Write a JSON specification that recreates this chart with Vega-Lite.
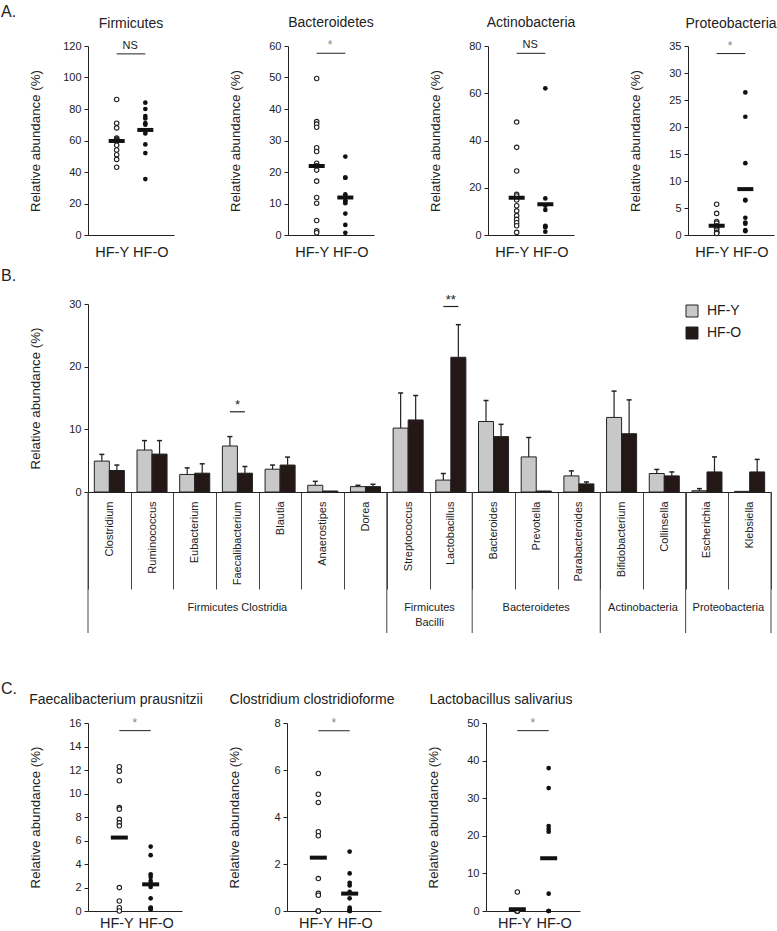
{
"$schema": "https://vega.github.io/schema/vega-lite/v6.json",
"padding": {"left": 0, "top": 4, "right": 5, "bottom": 5},
"datasets": {
"pts": [
{"p":"Firmicutes","g":"HF-Y","v":86},{"p":"Firmicutes","g":"HF-Y","v":71},{"p":"Firmicutes","g":"HF-Y","v":68},{"p":"Firmicutes","g":"HF-Y","v":61.5},{"p":"Firmicutes","g":"HF-Y","v":61},{"p":"Firmicutes","g":"HF-Y","v":60.5},{"p":"Firmicutes","g":"HF-Y","v":60},{"p":"Firmicutes","g":"HF-Y","v":59.5},{"p":"Firmicutes","g":"HF-Y","v":57},{"p":"Firmicutes","g":"HF-Y","v":54},{"p":"Firmicutes","g":"HF-Y","v":51},{"p":"Firmicutes","g":"HF-Y","v":48},{"p":"Firmicutes","g":"HF-Y","v":43},
{"p":"Firmicutes","g":"HF-O","v":84},{"p":"Firmicutes","g":"HF-O","v":80},{"p":"Firmicutes","g":"HF-O","v":75.5},{"p":"Firmicutes","g":"HF-O","v":74},{"p":"Firmicutes","g":"HF-O","v":71},{"p":"Firmicutes","g":"HF-O","v":70},{"p":"Firmicutes","g":"HF-O","v":66.5},{"p":"Firmicutes","g":"HF-O","v":66},{"p":"Firmicutes","g":"HF-O","v":64.5},{"p":"Firmicutes","g":"HF-O","v":57.5},{"p":"Firmicutes","g":"HF-O","v":52},{"p":"Firmicutes","g":"HF-O","v":35.5},
{"p":"Bacteroidetes","g":"HF-Y","v":49.7},{"p":"Bacteroidetes","g":"HF-Y","v":36},{"p":"Bacteroidetes","g":"HF-Y","v":35.2},{"p":"Bacteroidetes","g":"HF-Y","v":34.2},{"p":"Bacteroidetes","g":"HF-Y","v":27.7},{"p":"Bacteroidetes","g":"HF-Y","v":26.5},{"p":"Bacteroidetes","g":"HF-Y","v":22.8},{"p":"Bacteroidetes","g":"HF-Y","v":22},{"p":"Bacteroidetes","g":"HF-Y","v":20.6},{"p":"Bacteroidetes","g":"HF-Y","v":17.1},{"p":"Bacteroidetes","g":"HF-Y","v":11.9},{"p":"Bacteroidetes","g":"HF-Y","v":10.1},{"p":"Bacteroidetes","g":"HF-Y","v":4.6},{"p":"Bacteroidetes","g":"HF-Y","v":1.3},{"p":"Bacteroidetes","g":"HF-Y","v":0.7},
{"p":"Bacteroidetes","g":"HF-O","v":24.9},{"p":"Bacteroidetes","g":"HF-O","v":18.2},{"p":"Bacteroidetes","g":"HF-O","v":18.2},{"p":"Bacteroidetes","g":"HF-O","v":12.9},{"p":"Bacteroidetes","g":"HF-O","v":12.2},{"p":"Bacteroidetes","g":"HF-O","v":10.8},{"p":"Bacteroidetes","g":"HF-O","v":10.8},{"p":"Bacteroidetes","g":"HF-O","v":10.1},{"p":"Bacteroidetes","g":"HF-O","v":6.8},{"p":"Bacteroidetes","g":"HF-O","v":3.2},{"p":"Bacteroidetes","g":"HF-O","v":0.7},
{"p":"Actinobacteria","g":"HF-Y","v":47.8},{"p":"Actinobacteria","g":"HF-Y","v":37.1},{"p":"Actinobacteria","g":"HF-Y","v":27.1},{"p":"Actinobacteria","g":"HF-Y","v":17.2},{"p":"Actinobacteria","g":"HF-Y","v":16.5},{"p":"Actinobacteria","g":"HF-Y","v":14.8},{"p":"Actinobacteria","g":"HF-Y","v":12.4},{"p":"Actinobacteria","g":"HF-Y","v":10.2},{"p":"Actinobacteria","g":"HF-Y","v":8.2},{"p":"Actinobacteria","g":"HF-Y","v":6.6},{"p":"Actinobacteria","g":"HF-Y","v":5.2},{"p":"Actinobacteria","g":"HF-Y","v":3.9},{"p":"Actinobacteria","g":"HF-Y","v":1.1},
{"p":"Actinobacteria","g":"HF-O","v":62.1},{"p":"Actinobacteria","g":"HF-O","v":15.5},{"p":"Actinobacteria","g":"HF-O","v":12.4},{"p":"Actinobacteria","g":"HF-O","v":10.6},{"p":"Actinobacteria","g":"HF-O","v":3.9},{"p":"Actinobacteria","g":"HF-O","v":3.6},{"p":"Actinobacteria","g":"HF-O","v":3.3},{"p":"Actinobacteria","g":"HF-O","v":1.4},
{"p":"Proteobacteria","g":"HF-Y","v":5.7},{"p":"Proteobacteria","g":"HF-Y","v":4.0},{"p":"Proteobacteria","g":"HF-Y","v":2.5},{"p":"Proteobacteria","g":"HF-Y","v":2.2},{"p":"Proteobacteria","g":"HF-Y","v":1.7},{"p":"Proteobacteria","g":"HF-Y","v":1.5},{"p":"Proteobacteria","g":"HF-Y","v":1.2},{"p":"Proteobacteria","g":"HF-Y","v":0.9},{"p":"Proteobacteria","g":"HF-Y","v":0.5},{"p":"Proteobacteria","g":"HF-Y","v":0.4},{"p":"Proteobacteria","g":"HF-Y","v":0.3},
{"p":"Proteobacteria","g":"HF-O","v":26.4},{"p":"Proteobacteria","g":"HF-O","v":21.9},{"p":"Proteobacteria","g":"HF-O","v":13.3},{"p":"Proteobacteria","g":"HF-O","v":6.5},{"p":"Proteobacteria","g":"HF-O","v":6.4},{"p":"Proteobacteria","g":"HF-O","v":3.2},{"p":"Proteobacteria","g":"HF-O","v":2.3},{"p":"Proteobacteria","g":"HF-O","v":2.1},{"p":"Proteobacteria","g":"HF-O","v":0.9},{"p":"Proteobacteria","g":"HF-O","v":0.7},
{"p":"Faecalibacterium prausnitzii","g":"HF-Y","v":12.28},{"p":"Faecalibacterium prausnitzii","g":"HF-Y","v":11.9},{"p":"Faecalibacterium prausnitzii","g":"HF-Y","v":11.08},{"p":"Faecalibacterium prausnitzii","g":"HF-Y","v":8.8},{"p":"Faecalibacterium prausnitzii","g":"HF-Y","v":8.67},{"p":"Faecalibacterium prausnitzii","g":"HF-Y","v":7.8},{"p":"Faecalibacterium prausnitzii","g":"HF-Y","v":7.5},{"p":"Faecalibacterium prausnitzii","g":"HF-Y","v":7.25},{"p":"Faecalibacterium prausnitzii","g":"HF-Y","v":1.99},{"p":"Faecalibacterium prausnitzii","g":"HF-Y","v":0.85},{"p":"Faecalibacterium prausnitzii","g":"HF-Y","v":0.28},{"p":"Faecalibacterium prausnitzii","g":"HF-Y","v":0},
{"p":"Faecalibacterium prausnitzii","g":"HF-O","v":5.48},{"p":"Faecalibacterium prausnitzii","g":"HF-O","v":4.75},{"p":"Faecalibacterium prausnitzii","g":"HF-O","v":3.13},{"p":"Faecalibacterium prausnitzii","g":"HF-O","v":2.9},{"p":"Faecalibacterium prausnitzii","g":"HF-O","v":2.56},{"p":"Faecalibacterium prausnitzii","g":"HF-O","v":2.27},{"p":"Faecalibacterium prausnitzii","g":"HF-O","v":2.05},{"p":"Faecalibacterium prausnitzii","g":"HF-O","v":1.08},{"p":"Faecalibacterium prausnitzii","g":"HF-O","v":0.3},{"p":"Faecalibacterium prausnitzii","g":"HF-O","v":0.25},{"p":"Faecalibacterium prausnitzii","g":"HF-O","v":0.2},{"p":"Faecalibacterium prausnitzii","g":"HF-O","v":0.15},
{"p":"Clostridium clostridioforme","g":"HF-Y","v":5.85},{"p":"Clostridium clostridioforme","g":"HF-Y","v":4.97},{"p":"Clostridium clostridioforme","g":"HF-Y","v":4.62},{"p":"Clostridium clostridioforme","g":"HF-Y","v":3.37},{"p":"Clostridium clostridioforme","g":"HF-Y","v":3.2},{"p":"Clostridium clostridioforme","g":"HF-Y","v":1.38},{"p":"Clostridium clostridioforme","g":"HF-Y","v":0.75},{"p":"Clostridium clostridioforme","g":"HF-Y","v":0.67},{"p":"Clostridium clostridioforme","g":"HF-Y","v":0},{"p":"Clostridium clostridioforme","g":"HF-Y","v":0},{"p":"Clostridium clostridioforme","g":"HF-Y","v":0},
{"p":"Clostridium clostridioforme","g":"HF-O","v":2.53},{"p":"Clostridium clostridioforme","g":"HF-O","v":1.6},{"p":"Clostridium clostridioforme","g":"HF-O","v":1.2},{"p":"Clostridium clostridioforme","g":"HF-O","v":1.09},{"p":"Clostridium clostridioforme","g":"HF-O","v":0.81},{"p":"Clostridium clostridioforme","g":"HF-O","v":0.54},{"p":"Clostridium clostridioforme","g":"HF-O","v":0.14},{"p":"Clostridium clostridioforme","g":"HF-O","v":0.07},{"p":"Clostridium clostridioforme","g":"HF-O","v":0},{"p":"Clostridium clostridioforme","g":"HF-O","v":0},{"p":"Clostridium clostridioforme","g":"HF-O","v":0},
{"p":"Lactobacillus salivarius","g":"HF-Y","v":5.06},{"p":"Lactobacillus salivarius","g":"HF-Y","v":0},{"p":"Lactobacillus salivarius","g":"HF-Y","v":0},{"p":"Lactobacillus salivarius","g":"HF-Y","v":0},{"p":"Lactobacillus salivarius","g":"HF-Y","v":0},{"p":"Lactobacillus salivarius","g":"HF-Y","v":0},{"p":"Lactobacillus salivarius","g":"HF-Y","v":0},{"p":"Lactobacillus salivarius","g":"HF-Y","v":0},{"p":"Lactobacillus salivarius","g":"HF-Y","v":0},
{"p":"Lactobacillus salivarius","g":"HF-O","v":38},{"p":"Lactobacillus salivarius","g":"HF-O","v":32.7},{"p":"Lactobacillus salivarius","g":"HF-O","v":22.6},{"p":"Lactobacillus salivarius","g":"HF-O","v":21.8},{"p":"Lactobacillus salivarius","g":"HF-O","v":21.1},{"p":"Lactobacillus salivarius","g":"HF-O","v":4.6},{"p":"Lactobacillus salivarius","g":"HF-O","v":0},{"p":"Lactobacillus salivarius","g":"HF-O","v":0},{"p":"Lactobacillus salivarius","g":"HF-O","v":0}
],
"med": [
{"p":"Firmicutes","g":"HF-Y","v":59.7},{"p":"Firmicutes","g":"HF-O","v":66.7},
{"p":"Bacteroidetes","g":"HF-Y","v":21.9},{"p":"Bacteroidetes","g":"HF-O","v":11.9},
{"p":"Actinobacteria","g":"HF-Y","v":15.8},{"p":"Actinobacteria","g":"HF-O","v":13},
{"p":"Proteobacteria","g":"HF-Y","v":1.7},{"p":"Proteobacteria","g":"HF-O","v":8.5},
{"p":"Faecalibacterium prausnitzii","g":"HF-Y","v":6.25},{"p":"Faecalibacterium prausnitzii","g":"HF-O","v":2.27},
{"p":"Clostridium clostridioforme","g":"HF-Y","v":2.27},{"p":"Clostridium clostridioforme","g":"HF-O","v":0.74},
{"p":"Lactobacillus salivarius","g":"HF-Y","v":0.44},{"p":"Lactobacillus salivarius","g":"HF-O","v":14}
],
"sig": [
{"p":"Firmicutes","v":115,"t":"NS"},{"p":"Bacteroidetes","v":57.7,"t":"*"},{"p":"Actinobacteria","v":76.9,"t":"NS"},{"p":"Proteobacteria","v":33.6,"t":"*"},
{"p":"Faecalibacterium prausnitzii","v":15.35,"t":"*"},{"p":"Clostridium clostridioforme","v":7.67,"t":"*"},{"p":"Lactobacillus salivarius","v":47.96,"t":"*"}
],
"bars": [
{"genus":"Clostridium","g":"HF-Y","mean":4.93,"upper":6.0},{"genus":"Clostridium","g":"HF-O","mean":3.43,"upper":4.3},
{"genus":"Ruminococcus","g":"HF-Y","mean":6.7,"upper":8.2},{"genus":"Ruminococcus","g":"HF-O","mean":6.05,"upper":8.2},
{"genus":"Eubacterium","g":"HF-Y","mean":2.8,"upper":3.85},{"genus":"Eubacterium","g":"HF-O","mean":3.0,"upper":4.5},
{"genus":"Faecalibacterium","g":"HF-Y","mean":7.34,"upper":8.84},{"genus":"Faecalibacterium","g":"HF-O","mean":3.0,"upper":4.07},
{"genus":"Blautia","g":"HF-Y","mean":3.64,"upper":4.3},{"genus":"Blautia","g":"HF-O","mean":4.3,"upper":5.57},
{"genus":"Anaerostipes","g":"HF-Y","mean":1.07,"upper":1.7},{"genus":"Anaerostipes","g":"HF-O","mean":0.16,"upper":0.16},
{"genus":"Dorea","g":"HF-Y","mean":0.86,"upper":1.07},{"genus":"Dorea","g":"HF-O","mean":0.86,"upper":1.23},
{"genus":"Streptococcus","g":"HF-Y","mean":10.2,"upper":15.8},{"genus":"Streptococcus","g":"HF-O","mean":11.5,"upper":15.4},
{"genus":"Lactobacillus","g":"HF-Y","mean":1.9,"upper":2.95},{"genus":"Lactobacillus","g":"HF-O","mean":21.5,"upper":26.7},
{"genus":"Bacteroides","g":"HF-Y","mean":11.25,"upper":14.6},{"genus":"Bacteroides","g":"HF-O","mean":8.84,"upper":10.8},
{"genus":"Prevotella","g":"HF-Y","mean":5.6,"upper":8.7},{"genus":"Prevotella","g":"HF-O","mean":0.16,"upper":0.16},
{"genus":"Parabacteroides","g":"HF-Y","mean":2.57,"upper":3.37},{"genus":"Parabacteroides","g":"HF-O","mean":1.29,"upper":1.6},
{"genus":"Bifidobacterium","g":"HF-Y","mean":11.9,"upper":16.1},{"genus":"Bifidobacterium","g":"HF-O","mean":9.3,"upper":14.7},
{"genus":"Collinsella","g":"HF-Y","mean":2.95,"upper":3.6},{"genus":"Collinsella","g":"HF-O","mean":2.57,"upper":3.2},
{"genus":"Escherichia","g":"HF-Y","mean":0.2,"upper":0.54},{"genus":"Escherichia","g":"HF-O","mean":3.2,"upper":5.6},
{"genus":"Klebsiella","g":"HF-Y","mean":0.1,"upper":0.1},{"genus":"Klebsiella","g":"HF-O","mean":3.2,"upper":5.2}
],
"bsig": [{"genus":"Faecalibacterium","v":12.8,"t":"*"},{"genus":"Lactobacillus","v":29.6,"t":"**"}],
"gb": [{"genus":"Clostridium","edge":"start"},{"genus":"Streptococcus","edge":"start"},{"genus":"Bacteroides","edge":"start"},{"genus":"Bifidobacterium","edge":"start"},{"genus":"Escherichia","edge":"start"},{"genus":"Klebsiella","edge":"end"}],
"gl": [{"label":"Firmicutes Clostridia","genus":"Faecalibacterium","at":"center"},{"label":"Firmicutes\nBacilli","genus":"Lactobacillus","at":"start"},{"label":"Bacteroidetes","genus":"Prevotella","at":"center"},{"label":"Actinobacteria","genus":"Collinsella","at":"start"},{"label":"Proteobacteria","genus":"Klebsiella","at":"start"}]
},
"vconcat": [
{
"title": {"text": "A.", "anchor": "start", "fontSize": 16, "baseline": "alphabetic", "offset": -17, "dx": -27},
"bounds": "flush", "spacing": 114,
"hconcat": [
{"width": 86, "height": 189,
 "title": {"text": "Firmicutes", "frame": "group", "anchor": "middle", "baseline": "alphabetic", "offset": -2},
 "encoding": {"x": {"field": "g", "type": "nominal", "scale": {"type": "point", "domain": ["HF-Y","HF-O"], "padding": 1.1}, "axis": {"title": null, "labelFontSize": 14.5, "labelPadding": 10, "ticks": false, "labelAngle": 0, "labelOffset": {"condition": {"test": "datum.value === 'HF-Y'", "value": -5}, "value": 5}}},
  "y": {"field": "v", "type": "quantitative", "scale": {"domain": [0,120], "nice": false}, "axis": {"values": [0,20,40,60,80,100,120], "title": "Relative abundance (%)", "titleFontSize": 13.3, "titleX": -49, "titleBaseline": "alphabetic", "labelFontSize": 11, "tickSize": 4, "labelPadding": 3}}},
 "layer": [
  {"data": {"name": "pts"}, "transform": [{"filter": "datum.p === 'Firmicutes' && datum.g === 'HF-Y'"}], "mark": {"type": "circle", "size": 20, "fill": "white", "stroke": "#222", "strokeWidth": 1.1, "opacity": 1}},
  {"data": {"name": "pts"}, "transform": [{"filter": "datum.p === 'Firmicutes' && datum.g === 'HF-O'"}], "mark": {"type": "circle", "size": 22, "fill": "#111", "opacity": 1}},
  {"data": {"name": "med"}, "transform": [{"filter": "datum.p === 'Firmicutes'"}], "mark": {"type": "tick", "orient": "horizontal", "size": 16, "thickness": 4, "color": "#111", "opacity": 1}},
  {"data": {"name": "sig"}, "transform": [{"filter": "datum.p === 'Firmicutes'"}], "mark": {"type": "rule", "color": "#222", "strokeWidth": 1}, "encoding": {"x": {"datum": "HF-Y"}, "x2": {"datum": "HF-O"}}},
  {"data": {"name": "sig"}, "transform": [{"filter": "datum.p === 'Firmicutes'"}], "mark": {"type": "text", "dx": 13.5, "dy": -8, "fontSize": 11}, "encoding": {"x": {"datum": "HF-Y"}, "text": {"field": "t"}, "color": {"condition": {"test": "datum.t === 'NS'", "value": "#222"}, "value": "#888"}}}
 ]},
{"width": 86, "height": 189,
 "title": {"text": "Bacteroidetes", "frame": "group", "anchor": "middle", "baseline": "alphabetic", "offset": -2},
 "encoding": {"x": {"field": "g", "type": "nominal", "scale": {"type": "point", "domain": ["HF-Y","HF-O"], "padding": 1.1}, "axis": {"title": null, "labelFontSize": 14.5, "labelPadding": 10, "ticks": false, "labelAngle": 0, "labelOffset": {"condition": {"test": "datum.value === 'HF-Y'", "value": -5}, "value": 5}}},
  "y": {"field": "v", "type": "quantitative", "scale": {"domain": [0,60], "nice": false}, "axis": {"values": [0,10,20,30,40,50,60], "title": "Relative abundance (%)", "titleFontSize": 13.3, "titleX": -49, "titleBaseline": "alphabetic", "labelFontSize": 11, "tickSize": 4, "labelPadding": 3}}},
 "layer": [
  {"data": {"name": "pts"}, "transform": [{"filter": "datum.p === 'Bacteroidetes' && datum.g === 'HF-Y'"}], "mark": {"type": "circle", "size": 20, "fill": "white", "stroke": "#222", "strokeWidth": 1.1, "opacity": 1}},
  {"data": {"name": "pts"}, "transform": [{"filter": "datum.p === 'Bacteroidetes' && datum.g === 'HF-O'"}], "mark": {"type": "circle", "size": 22, "fill": "#111", "opacity": 1}},
  {"data": {"name": "med"}, "transform": [{"filter": "datum.p === 'Bacteroidetes'"}], "mark": {"type": "tick", "orient": "horizontal", "size": 16, "thickness": 4, "color": "#111", "opacity": 1}},
  {"data": {"name": "sig"}, "transform": [{"filter": "datum.p === 'Bacteroidetes'"}], "mark": {"type": "rule", "color": "#222", "strokeWidth": 1}, "encoding": {"x": {"datum": "HF-Y"}, "x2": {"datum": "HF-O"}}},
  {"data": {"name": "sig"}, "transform": [{"filter": "datum.p === 'Bacteroidetes'"}], "mark": {"type": "text", "dx": 13.5, "dy": -8, "fontSize": 12}, "encoding": {"x": {"datum": "HF-Y"}, "text": {"field": "t"}, "color": {"condition": {"test": "datum.t === 'NS'", "value": "#222"}, "value": "#888"}}}
 ]},
{"width": 86, "height": 189,
 "title": {"text": "Actinobacteria", "frame": "group", "anchor": "middle", "baseline": "alphabetic", "offset": -2},
 "encoding": {"x": {"field": "g", "type": "nominal", "scale": {"type": "point", "domain": ["HF-Y","HF-O"], "padding": 1.1}, "axis": {"title": null, "labelFontSize": 14.5, "labelPadding": 10, "ticks": false, "labelAngle": 0, "labelOffset": {"condition": {"test": "datum.value === 'HF-Y'", "value": -5}, "value": 5}}},
  "y": {"field": "v", "type": "quantitative", "scale": {"domain": [0,80], "nice": false}, "axis": {"values": [0,20,40,60,80], "title": "Relative abundance (%)", "titleFontSize": 13.3, "titleX": -49, "titleBaseline": "alphabetic", "labelFontSize": 11, "tickSize": 4, "labelPadding": 3}}},
 "layer": [
  {"data": {"name": "pts"}, "transform": [{"filter": "datum.p === 'Actinobacteria' && datum.g === 'HF-Y'"}], "mark": {"type": "circle", "size": 20, "fill": "white", "stroke": "#222", "strokeWidth": 1.1, "opacity": 1}},
  {"data": {"name": "pts"}, "transform": [{"filter": "datum.p === 'Actinobacteria' && datum.g === 'HF-O'"}], "mark": {"type": "circle", "size": 22, "fill": "#111", "opacity": 1}},
  {"data": {"name": "med"}, "transform": [{"filter": "datum.p === 'Actinobacteria'"}], "mark": {"type": "tick", "orient": "horizontal", "size": 16, "thickness": 4, "color": "#111", "opacity": 1}},
  {"data": {"name": "sig"}, "transform": [{"filter": "datum.p === 'Actinobacteria'"}], "mark": {"type": "rule", "color": "#222", "strokeWidth": 1}, "encoding": {"x": {"datum": "HF-Y"}, "x2": {"datum": "HF-O"}}},
  {"data": {"name": "sig"}, "transform": [{"filter": "datum.p === 'Actinobacteria'"}], "mark": {"type": "text", "dx": 13.5, "dy": -8, "fontSize": 11}, "encoding": {"x": {"datum": "HF-Y"}, "text": {"field": "t"}, "color": {"condition": {"test": "datum.t === 'NS'", "value": "#222"}, "value": "#888"}}}
 ]},
{"width": 86, "height": 189,
 "title": {"text": "Proteobacteria", "frame": "group", "anchor": "middle", "baseline": "alphabetic", "offset": -2},
 "encoding": {"x": {"field": "g", "type": "nominal", "scale": {"type": "point", "domain": ["HF-Y","HF-O"], "padding": 1.1}, "axis": {"title": null, "labelFontSize": 14.5, "labelPadding": 10, "ticks": false, "labelAngle": 0, "labelOffset": {"condition": {"test": "datum.value === 'HF-Y'", "value": -5}, "value": 5}}},
  "y": {"field": "v", "type": "quantitative", "scale": {"domain": [0,35], "nice": false}, "axis": {"values": [0,5,10,15,20,25,30,35], "title": "Relative abundance (%)", "titleFontSize": 13.3, "titleX": -49, "titleBaseline": "alphabetic", "labelFontSize": 11, "tickSize": 4, "labelPadding": 3}}},
 "layer": [
  {"data": {"name": "pts"}, "transform": [{"filter": "datum.p === 'Proteobacteria' && datum.g === 'HF-Y'"}], "mark": {"type": "circle", "size": 20, "fill": "white", "stroke": "#222", "strokeWidth": 1.1, "opacity": 1}},
  {"data": {"name": "pts"}, "transform": [{"filter": "datum.p === 'Proteobacteria' && datum.g === 'HF-O'"}], "mark": {"type": "circle", "size": 22, "fill": "#111", "opacity": 1}},
  {"data": {"name": "med"}, "transform": [{"filter": "datum.p === 'Proteobacteria'"}], "mark": {"type": "tick", "orient": "horizontal", "size": 16, "thickness": 4, "color": "#111", "opacity": 1}},
  {"data": {"name": "sig"}, "transform": [{"filter": "datum.p === 'Proteobacteria'"}], "mark": {"type": "rule", "color": "#222", "strokeWidth": 1}, "encoding": {"x": {"datum": "HF-Y"}, "x2": {"datum": "HF-O"}}},
  {"data": {"name": "sig"}, "transform": [{"filter": "datum.p === 'Proteobacteria'"}], "mark": {"type": "text", "dx": 13.5, "dy": -8, "fontSize": 12}, "encoding": {"x": {"datum": "HF-Y"}, "text": {"field": "t"}, "color": {"condition": {"test": "datum.t === 'NS'", "value": "#222"}, "value": "#888"}}}
 ]}
]
},
{
"spacing": 46,
"resolve": {"scale": {"color": "independent"}, "legend": {"color": "independent"}},
"vconcat": [
{"width": 683, "height": 188,
 "title": {"text": "B.", "anchor": "start", "frame": "bounds", "fontSize": 16, "baseline": "alphabetic", "offset": -3, "dx": -27},
 "layer": [
  {"data": {"name": "bars"}, "mark": {"type": "bar", "stroke": "#222", "strokeWidth": 1},
   "encoding": {
    "x": {"field": "genus", "type": "nominal", "scale": {"domain": ["Clostridium","Ruminococcus","Eubacterium","Faecalibacterium","Blautia","Anaerostipes","Dorea","Streptococcus","Lactobacillus","Bacteroides","Prevotella","Parabacteroides","Bifidobacterium","Collinsella","Escherichia","Klebsiella"], "paddingInner": 0, "paddingOuter": 0},
     "axis": {"title": null, "labelAngle": 270, "labelAlign": "right", "labelBaseline": "middle", "labelFontSize": 11, "tickBand": "extent", "tickSize": 97, "tickColor": "#444", "labelPadding": -88}},
    "xOffset": {"field": "g", "type": "nominal", "scale": {"domain": ["HF-Y","HF-O"], "paddingInner": 0, "paddingOuter": 0.42}},
    "y": {"field": "mean", "type": "quantitative", "scale": {"domain": [0,30], "nice": false}, "axis": {"values": [0,5,10,15,20,25,30], "title": "Relative abundance (%)", "titleFontSize": 13.3, "titleX": -49, "titleBaseline": "alphabetic", "labelFontSize": 11, "tickSize": 4, "labelPadding": 3}},
    "color": {"field": "g", "type": "nominal", "scale": {"domain": ["HF-Y","HF-O"], "range": ["#c8c8c8","#231815"]},
     "legend": {"title": null, "orient": "none", "legendX": 597, "legendY": 0, "symbolType": "square", "symbolSize": 144, "symbolStrokeColor": "#222", "symbolStrokeWidth": 1, "symbolOpacity": 1, "labelFontSize": 14, "labelOffset": 8, "rowPadding": 6, "padding": 0}}
   }},
  {"data": {"name": "bars"}, "transform": [{"filter": "datum.upper > datum.mean"}], "mark": {"type": "rule", "color": "#222", "strokeWidth": 1.2},
   "encoding": {"x": {"field": "genus", "type": "nominal"}, "xOffset": {"field": "g", "type": "nominal"}, "y": {"field": "mean", "type": "quantitative"}, "y2": {"field": "upper"}}},
  {"data": {"name": "bars"}, "transform": [{"filter": "datum.upper > datum.mean"}], "mark": {"type": "tick", "orient": "horizontal", "size": 5, "thickness": 1.5, "color": "#222", "opacity": 1},
   "encoding": {"x": {"field": "genus", "type": "nominal"}, "xOffset": {"field": "g", "type": "nominal"}, "y": {"field": "upper", "type": "quantitative"}}},
  {"data": {"name": "bsig"}, "mark": {"type": "tick", "orient": "horizontal", "size": 15, "thickness": 1.2, "color": "#222", "opacity": 1},
   "encoding": {"x": {"field": "genus", "type": "nominal"}, "y": {"field": "v", "type": "quantitative"}}},
  {"data": {"name": "bsig"}, "mark": {"type": "text", "dy": -7, "fontSize": 13, "color": "#222"},
   "encoding": {"x": {"field": "genus", "type": "nominal"}, "y": {"field": "v", "type": "quantitative"}, "text": {"field": "t"}}},
  {"data": {"name": "gb"}, "transform": [{"filter": "datum.edge === 'start'"}], "mark": {"type": "rule", "color": "#444", "strokeWidth": 1},
   "encoding": {"x": {"field": "genus", "type": "nominal", "bandPosition": 0}, "y": {"datum": 0}, "y2": {"datum": -22.5}}},
  {"data": {"name": "gb"}, "transform": [{"filter": "datum.edge === 'end'"}], "mark": {"type": "rule", "color": "#444", "strokeWidth": 1},
   "encoding": {"x": {"field": "genus", "type": "nominal", "bandPosition": 1}, "y": {"datum": 0}, "y2": {"datum": -22.5}}},
  {"data": {"name": "gl"}, "transform": [{"filter": "datum.at === 'center'"}], "mark": {"type": "text", "baseline": "top", "fontSize": 11, "lineBreak": "\n", "lineHeight": 15, "color": "#222"},
   "encoding": {"x": {"field": "genus", "type": "nominal", "bandPosition": 0.5}, "y": {"datum": -17.5}, "text": {"field": "label"}}},
  {"data": {"name": "gl"}, "transform": [{"filter": "datum.at === 'start'"}], "mark": {"type": "text", "baseline": "top", "fontSize": 11, "lineBreak": "\n", "lineHeight": 15, "color": "#222"},
   "encoding": {"x": {"field": "genus", "type": "nominal", "bandPosition": 0}, "y": {"datum": -17.5}, "text": {"field": "label"}}}
 ]},
{
"title": {"text": "C.", "anchor": "start", "fontSize": 16, "baseline": "alphabetic", "offset": -17, "dx": -27},
"bounds": "flush", "spacing": 105,
"hconcat": [
{"width": 94, "height": 188,
 "title": {"text": "Faecalibacterium prausnitzii", "frame": "group", "anchor": "middle", "baseline": "alphabetic", "offset": -1, "dx": -19},
 "encoding": {"x": {"field": "g", "type": "nominal", "scale": {"type": "point", "domain": ["HF-Y","HF-O"], "padding": 1.03}, "axis": {"title": null, "labelFontSize": 14.5, "labelPadding": 5, "ticks": false, "labelAngle": 0, "labelOffset": {"condition": {"test": "datum.value === 'HF-Y'", "value": -3}, "value": 5}}},
  "y": {"field": "v", "type": "quantitative", "scale": {"domain": [0,16], "nice": false}, "axis": {"values": [0,2,4,6,8,10,12,14,16], "title": "Relative abundance (%)", "titleFontSize": 13.3, "titleX": -49, "titleBaseline": "alphabetic", "labelFontSize": 11, "tickSize": 4, "labelPadding": 3}}},
 "layer": [
  {"data": {"name": "pts"}, "transform": [{"filter": "datum.p === 'Faecalibacterium prausnitzii' && datum.g === 'HF-Y'"}], "mark": {"type": "circle", "size": 20, "fill": "white", "stroke": "#222", "strokeWidth": 1.1, "opacity": 1}},
  {"data": {"name": "pts"}, "transform": [{"filter": "datum.p === 'Faecalibacterium prausnitzii' && datum.g === 'HF-O'"}], "mark": {"type": "circle", "size": 22, "fill": "#111", "opacity": 1}},
  {"data": {"name": "med"}, "transform": [{"filter": "datum.p === 'Faecalibacterium prausnitzii'"}], "mark": {"type": "tick", "orient": "horizontal", "size": 17, "thickness": 4, "color": "#111", "opacity": 1}},
  {"data": {"name": "sig"}, "transform": [{"filter": "datum.p === 'Faecalibacterium prausnitzii'"}], "mark": {"type": "rule", "color": "#222", "strokeWidth": 1}, "encoding": {"x": {"datum": "HF-Y"}, "x2": {"datum": "HF-O"}}},
  {"data": {"name": "sig"}, "transform": [{"filter": "datum.p === 'Faecalibacterium prausnitzii'"}], "mark": {"type": "text", "dx": 15.5, "dy": -8, "fontSize": 12, "color": "#888"}, "encoding": {"x": {"datum": "HF-Y"}, "text": {"field": "t"}}}
 ]},
{"width": 94, "height": 188,
 "title": {"text": "Clostridium clostridioforme", "frame": "group", "anchor": "middle", "baseline": "alphabetic", "offset": -1, "dx": -22},
 "encoding": {"x": {"field": "g", "type": "nominal", "scale": {"type": "point", "domain": ["HF-Y","HF-O"], "padding": 1.03}, "axis": {"title": null, "labelFontSize": 14.5, "labelPadding": 5, "ticks": false, "labelAngle": 0, "labelOffset": {"condition": {"test": "datum.value === 'HF-Y'", "value": -3}, "value": 5}}},
  "y": {"field": "v", "type": "quantitative", "scale": {"domain": [0,8], "nice": false}, "axis": {"values": [0,2,4,6,8], "title": "Relative abundance (%)", "titleFontSize": 13.3, "titleX": -49, "titleBaseline": "alphabetic", "labelFontSize": 11, "tickSize": 4, "labelPadding": 3}}},
 "layer": [
  {"data": {"name": "pts"}, "transform": [{"filter": "datum.p === 'Clostridium clostridioforme' && datum.g === 'HF-Y'"}], "mark": {"type": "circle", "size": 20, "fill": "white", "stroke": "#222", "strokeWidth": 1.1, "opacity": 1}},
  {"data": {"name": "pts"}, "transform": [{"filter": "datum.p === 'Clostridium clostridioforme' && datum.g === 'HF-O'"}], "mark": {"type": "circle", "size": 22, "fill": "#111", "opacity": 1}},
  {"data": {"name": "med"}, "transform": [{"filter": "datum.p === 'Clostridium clostridioforme'"}], "mark": {"type": "tick", "orient": "horizontal", "size": 17, "thickness": 4, "color": "#111", "opacity": 1}},
  {"data": {"name": "sig"}, "transform": [{"filter": "datum.p === 'Clostridium clostridioforme'"}], "mark": {"type": "rule", "color": "#222", "strokeWidth": 1}, "encoding": {"x": {"datum": "HF-Y"}, "x2": {"datum": "HF-O"}}},
  {"data": {"name": "sig"}, "transform": [{"filter": "datum.p === 'Clostridium clostridioforme'"}], "mark": {"type": "text", "dx": 15.5, "dy": -8, "fontSize": 12, "color": "#888"}, "encoding": {"x": {"datum": "HF-Y"}, "text": {"field": "t"}}}
 ]},
{"width": 94, "height": 188,
 "title": {"text": "Lactobacillus salivarius", "frame": "group", "anchor": "middle", "baseline": "alphabetic", "offset": -1, "dx": -32},
 "encoding": {"x": {"field": "g", "type": "nominal", "scale": {"type": "point", "domain": ["HF-Y","HF-O"], "padding": 1.03}, "axis": {"title": null, "labelFontSize": 14.5, "labelPadding": 5, "ticks": false, "labelAngle": 0, "labelOffset": {"condition": {"test": "datum.value === 'HF-Y'", "value": -3}, "value": 5}}},
  "y": {"field": "v", "type": "quantitative", "scale": {"domain": [0,50], "nice": false}, "axis": {"values": [0,10,20,30,40,50], "title": "Relative abundance (%)", "titleFontSize": 13.3, "titleX": -49, "titleBaseline": "alphabetic", "labelFontSize": 11, "tickSize": 4, "labelPadding": 3}}},
 "layer": [
  {"data": {"name": "pts"}, "transform": [{"filter": "datum.p === 'Lactobacillus salivarius' && datum.g === 'HF-Y'"}], "mark": {"type": "circle", "size": 20, "fill": "white", "stroke": "#222", "strokeWidth": 1.1, "opacity": 1}},
  {"data": {"name": "pts"}, "transform": [{"filter": "datum.p === 'Lactobacillus salivarius' && datum.g === 'HF-O'"}], "mark": {"type": "circle", "size": 22, "fill": "#111", "opacity": 1}},
  {"data": {"name": "med"}, "transform": [{"filter": "datum.p === 'Lactobacillus salivarius'"}], "mark": {"type": "tick", "orient": "horizontal", "size": 17, "thickness": 4, "color": "#111", "opacity": 1}},
  {"data": {"name": "sig"}, "transform": [{"filter": "datum.p === 'Lactobacillus salivarius'"}], "mark": {"type": "rule", "color": "#222", "strokeWidth": 1}, "encoding": {"x": {"datum": "HF-Y"}, "x2": {"datum": "HF-O"}}},
  {"data": {"name": "sig"}, "transform": [{"filter": "datum.p === 'Lactobacillus salivarius'"}], "mark": {"type": "text", "dx": 15.5, "dy": -8, "fontSize": 12, "color": "#888"}, "encoding": {"x": {"datum": "HF-Y"}, "text": {"field": "t"}}}
 ]}
]
}
]
}
],
"spacing": 8,
"resolve": {"scale": {"color": "independent"}, "legend": {"color": "independent"}},
"config": {
 "view": {"stroke": null},
 "font": "Liberation Sans",
 "axis": {"grid": false, "domainColor": "#222", "tickColor": "#222", "labelColor": "#222", "titleColor": "#222", "titleFontWeight": "normal", "labelFont": "Liberation Sans", "titleFont": "Liberation Sans"},
 "title": {"fontWeight": "normal", "color": "#222", "fontSize": 14, "font": "Liberation Sans"},
 "legend": {"labelFont": "Liberation Sans", "labelColor": "#222"},
 "text": {"font": "Liberation Sans"}
}
}
